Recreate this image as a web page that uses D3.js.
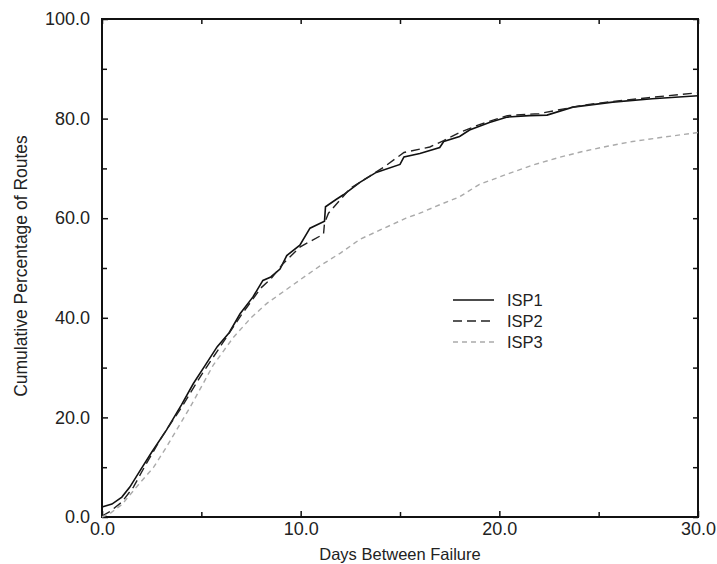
<!DOCTYPE html>
<html>
<head>
<meta charset="utf-8">
<script src="https://cdn.jsdelivr.net/npm/d3@7"></script>
<style>
  body { margin: 0; background: #fff; }
  text { font-family: "Liberation Sans", Arial, sans-serif; fill: #222; }
</style>
</head>
<body>
<div id="chart"></div>
<script>
// Data (days, cumulative %)
const isp1Days = [0, 0.5, 1, 1.4, 1.9, 2.5, 3.25, 4.0, 4.6, 5.2, 5.8, 6.4, 6.95, 7.6, 8.1, 8.5, 8.96, 9.3, 9.96, 10.47, 11.2, 11.25, 11.8, 12.15, 12.98, 13.8, 15.0, 15.2, 16.0, 17.0, 17.2, 18.0, 18.5, 19.5, 20.4, 21.5, 22.4, 23.7, 25.7, 27.7, 30];
const isp1Pct  = [2.0, 2.6, 4.0, 6.0, 9.2, 13.0, 17.5, 22.5, 26.8, 30.5, 34.2, 37.0, 40.8, 44.2, 47.5, 48.2, 49.8, 52.5, 54.6, 58.0, 59.4, 62.3, 63.8, 64.7, 67.2, 69.2, 70.8, 72.3, 73.0, 74.2, 75.4, 76.4, 77.7, 79.2, 80.3, 80.6, 80.7, 82.3, 83.3, 84.0, 84.6];

const isp2Days = [0, 0.4, 1.0, 1.58, 2.2, 3.0, 4.0, 5.0, 6.0, 7.0, 8.0, 8.5, 9.1, 9.96, 10.6, 11.15, 11.2, 11.4, 12.5, 13.5, 14.2, 15.2, 16.5, 17.2, 18.0, 19.0, 20.4, 22.0, 24.1, 25.4, 27.5, 30];
const isp2Pct  = [0.2, 1.1, 3.0, 6.0, 10.5, 16.0, 22.0, 28.5, 34.5, 40.5, 46.0, 47.8, 50.8, 54.2, 55.6, 56.8, 59.0, 61.0, 66.0, 68.5, 70.3, 73.2, 74.3, 75.6, 77.2, 78.8, 80.6, 81.0, 82.6, 83.3, 84.2, 85.2];

const isp3Days = [0, 0.4, 1.0, 1.9, 2.6, 3.25, 4.43, 5.6, 6.6, 7.5, 8.3, 9.96, 11.0, 12.0, 13.0, 14.2, 15.3, 16.0, 17.0, 18.0, 19.0, 20.5, 21.7, 23.0, 24.2, 25.5, 26.7, 28.3, 30];
const isp3Pct  = [0, 0.7, 2.5, 6.8, 10.0, 14.1, 22.0, 30.5, 36.0, 40.0, 42.9, 47.6, 50.5, 53.0, 55.8, 58.0, 60.0, 61.0, 62.7, 64.3, 66.8, 69.0, 70.7, 72.2, 73.4, 74.5, 75.4, 76.3, 77.2];

const seriesNames = ["ISP1", "ISP2", "ISP3"];
const xTicks = [0, 10, 20, 30];
const xMinor = [5, 15, 25];
const yTicks = [0, 20, 40, 60, 80, 100];
const yMinor = [10, 30, 50, 70, 90];

const width = 717, height = 564;
const margin = {left: 102, top: 19, right: 19, bottom: 47};

const svg = d3.select("#chart").append("svg")
  .attr("width", width)
  .attr("height", height);

const x = d3.scaleLinear().domain([0, 30]).range([margin.left, width - margin.right]);
const y = d3.scaleLinear().domain([0, 100]).range([height - margin.bottom, margin.top]);
const fmt = d3.format(".1f");

// bottom axis with labels
svg.append("g")
  .attr("transform", `translate(0,${y(0)})`)
  .call(d3.axisBottom(x).tickValues(xTicks).tickFormat(fmt).tickSizeInner(-6).tickSizeOuter(0).tickPadding(5))
  .call(g => g.selectAll("text").style("font-size", "18px").attr("fill", "#222"));

svg.append("g")
  .attr("transform", `translate(${x(0)},0)`)
  .call(d3.axisLeft(y).tickValues(yTicks).tickFormat(fmt).tickSizeInner(-6).tickSizeOuter(0).tickPadding(12))
  .call(g => g.selectAll("text").style("font-size", "18px").attr("fill", "#222"));

// minor ticks bottom/left, plus ticks on top/right
svg.append("g")
  .attr("transform", `translate(0,${y(0)})`)
  .call(d3.axisBottom(x).tickValues(xMinor).tickFormat("").tickSizeInner(-5).tickSizeOuter(0));
svg.append("g")
  .attr("transform", `translate(${x(0)},0)`)
  .call(d3.axisLeft(y).tickValues(yMinor).tickFormat("").tickSizeInner(-5).tickSizeOuter(0));
svg.append("g")
  .attr("transform", `translate(0,${y(100)})`)
  .call(d3.axisTop(x).tickValues(xTicks.concat(xMinor)).tickFormat("").tickSizeInner(-5).tickSizeOuter(0));
svg.append("g")
  .attr("transform", `translate(${x(30)},0)`)
  .call(d3.axisRight(y).tickValues(yTicks.concat(yMinor)).tickFormat("").tickSizeInner(-5).tickSizeOuter(0));

svg.selectAll(".domain").remove();
svg.selectAll(".tick line").attr("stroke", "#111").attr("stroke-width", 1.5);

// frame
svg.append("rect")
  .attr("x", x(0)).attr("y", y(100))
  .attr("width", x(30) - x(0)).attr("height", y(0) - y(100))
  .attr("fill", "none").attr("stroke", "#111").attr("stroke-width", 2);

const line = d3.line().x(d => x(d[0])).y(d => y(d[1]));
const styles = [
  {stroke: "#111", dash: null, width: 1.6},
  {stroke: "#222", dash: "9,5", width: 1.4},
  {stroke: "#aaa", dash: "5,4", width: 1.4}
];
const series = [
  d3.zip(isp1Days, isp1Pct),
  d3.zip(isp2Days, isp2Pct),
  d3.zip(isp3Days, isp3Pct)
];

series.forEach((s, i) => {
  svg.append("path")
    .attr("d", line(s))
    .attr("fill", "none")
    .attr("stroke", styles[i].stroke)
    .attr("stroke-width", styles[i].width)
    .attr("stroke-dasharray", styles[i].dash);
});

// legend
const legend = svg.append("g").attr("transform", "translate(453,300)");
seriesNames.forEach((name, i) => {
  legend.append("line")
    .attr("x1", 0).attr("x2", 41)
    .attr("y1", i * 21).attr("y2", i * 21)
    .attr("stroke", styles[i].stroke)
    .attr("stroke-width", styles[i].width)
    .attr("stroke-dasharray", styles[i].dash);
  legend.append("text")
    .attr("x", 54).attr("y", i * 21)
    .attr("dy", "0.35em")
    .style("font-size", "16.5px")
    .text(name);
});

// axis titles
svg.append("text")
  .attr("x", (x(0) + x(30)) / 2).attr("y", 560)
  .attr("text-anchor", "middle")
  .style("font-size", "16.5px")
  .text("Days Between Failure");

svg.append("text")
  .attr("transform", `translate(27,266) rotate(-90)`)
  .attr("text-anchor", "middle")
  .style("font-size", "17.5px")
  .text("Cumulative Percentage of Routes");
</script>
</body>
</html>
